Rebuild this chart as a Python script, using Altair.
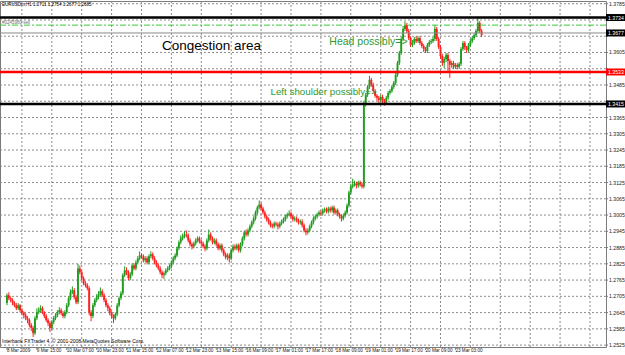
import altair as alt
import pandas as pd

# ---- data (EURUSD H1, prices in 1/10000) ----
first_open = 12680
closes = [
12709,12698,12691,12680,12672,12661,12672,12654,12643,12635,
12624,12617,12599,12588,12569,12624,12646,12654,12661,12646,
12632,12617,12606,12588,12610,12624,12635,12646,12654,12643,
12632,12646,12672,12698,12720,12727,12702,12683,12808,12794,
12772,12753,12746,12735,12646,12632,12672,12691,12702,12713,
12724,12709,12691,12672,12661,12643,12632,12624,12639,12672,
12698,12716,12783,12801,12794,12772,12786,12819,12808,12830,
12845,12856,12853,12838,12845,12830,12853,12860,12845,12830,
12819,12808,12794,12783,12790,12801,12808,12816,12830,12845,
12856,12882,12904,12919,12926,12933,12930,12911,12897,12889,
12900,12911,12919,12907,12900,12889,12882,12911,12933,12919,
12904,12911,12897,12882,12893,12875,12860,12849,12856,12845,
12875,12889,12882,12893,12875,12897,12919,12941,12933,12948,
12963,12978,12992,13014,13033,13044,13029,13014,13000,12989,
12978,12967,12963,12974,12970,12963,12974,12981,12989,13000,
13007,13011,13000,12989,12992,12985,12978,12981,12967,12948,
12941,12948,12963,12978,12992,13000,13007,13014,13011,13022,
13026,13018,13029,13022,13033,13014,13022,13007,13000,12992,
13003,13014,13040,13088,13110,13117,13121,13114,13125,13117,
13110,13416,13449,13478,13504,13485,13463,13445,13438,13430,
13441,13427,13419,13438,13456,13463,13478,13493,13522,13566,
13603,13655,13692,13706,13684,13658,13633,13640,13655,13647,
13658,13640,13629,13618,13611,13633,13643,13647,13655,13692,
13655,13625,13592,13566,13581,13596,13574,13559,13566,13552,
13559,13552,13563,13618,13640,13625,13614,13633,13647,13658,
13669,13684,13714,13684,13669]
highs = [
12716,12720,12705,12698,12687,12680,12680,12676,12661,12650,
12643,12632,12624,12606,12595,12632,12661,12665,12672,12668,
12650,12639,12624,12613,12617,12632,12643,12654,12665,12661,
12650,12654,12680,12705,12731,12742,12735,12709,12825,12819,
12801,12779,12761,12753,12742,12654,12680,12698,12713,12724,
12738,12731,12716,12698,12680,12668,12650,12639,12646,12680,
12705,12724,12790,12816,12812,12801,12794,12827,12827,12838,
12853,12871,12864,12860,12853,12853,12860,12871,12867,12853,
12838,12827,12816,12801,12797,12808,12816,12823,12838,12853,
12864,12889,12911,12930,12937,12945,12948,12937,12919,12904,
12907,12919,12926,12926,12915,12907,12897,12919,12952,12941,
12926,12919,12919,12904,12900,12900,12882,12867,12864,12864,
12882,12897,12897,12900,12900,12904,12926,12948,12952,12956,
12970,12985,13000,13022,13040,13059,13051,13036,13022,13007,
12996,12985,12974,12981,12981,12978,12981,12989,12996,13007,
13014,13022,13018,13007,13000,13000,12992,12989,12989,12974,
12956,12956,12970,12985,13000,13007,13014,13022,13022,13029,
13033,13033,13036,13036,13040,13040,13029,13029,13014,13007,
13011,13022,13048,13095,13121,13139,13132,13128,13132,13132,
13125,13427,13456,13485,13519,13511,13493,13470,13452,13445,
13449,13449,13434,13445,13463,13470,13485,13500,13530,13574,
13611,13662,13703,13721,13714,13692,13665,13651,13662,13665,
13665,13665,13647,13636,13625,13640,13651,13655,13662,13706,
13699,13662,13633,13600,13589,13603,13603,13581,13574,13574,
13566,13566,13570,13625,13647,13647,13629,13640,13655,13665,
13676,13692,13732,13721,13692]
lows = [
12672,12691,12683,12672,12665,12654,12654,12646,12635,12624,
12617,12606,12591,12577,12555,12562,12617,12639,12646,12639,
12624,12610,12595,12573,12580,12602,12617,12628,12639,12635,
12624,12624,12639,12665,12691,12713,12694,12676,12676,12786,
12764,12746,12738,12727,12635,12613,12624,12665,12683,12694,
12705,12702,12683,12665,12650,12635,12624,12606,12617,12632,
12665,12691,12709,12776,12783,12764,12764,12779,12801,12801,
12823,12838,12845,12830,12830,12823,12823,12845,12838,12823,
12812,12801,12786,12772,12768,12783,12794,12801,12808,12823,
12838,12849,12875,12897,12911,12919,12922,12904,12889,12878,
12882,12893,12904,12900,12893,12882,12871,12875,12904,12911,
12897,12897,12889,12875,12875,12867,12853,12842,12838,12830,
12838,12867,12875,12875,12867,12867,12889,12911,12926,12926,
12941,12956,12970,12985,13007,13026,13022,13007,12992,12981,
12970,12959,12956,12956,12963,12952,12956,12967,12974,12981,
12992,13000,12992,12981,12981,12978,12970,12970,12959,12941,
12930,12933,12941,12956,12970,12985,12992,13000,13003,13003,
13014,13011,13011,13014,13014,13007,13007,13000,12992,12981,
12985,12996,13007,13033,13081,13103,13110,13103,13106,13110,
13103,13103,13405,13441,13470,13478,13456,13438,13427,13416,
13423,13416,13408,13412,13430,13449,13456,13470,13485,13515,
13559,13596,13647,13684,13676,13651,13625,13625,13633,13640,
13640,13633,13622,13607,13603,13603,13625,13636,13640,13647,
13647,13618,13581,13555,13548,13570,13537,13511,13548,13544,
13544,13544,13544,13555,13611,13614,13603,13607,13625,13640,
13651,13662,13676,13676,13662]

price_ticks = [1.2525, 1.2585, 1.2645, 1.2705, 1.2765, 1.2825, 1.2885, 1.2945,
               1.3005, 1.3065, 1.3125, 1.3185, 1.3245, 1.3305, 1.3365, 1.3425,
               1.3485, 1.3545, 1.3605, 1.3665, 1.3725, 1.3785]
time_labels = ["8 Mar 2009", "9 Mar 15:00", "10 Mar 07:00", "10 Mar 23:00",
               "11 Mar 15:00", "12 Mar 07:00", "12 Mar 23:00", "13 Mar 15:00",
               "16 Mar 09:00", "17 Mar 01:00", "17 Mar 17:00", "18 Mar 09:00",
               "19 Mar 01:00", "19 Mar 17:00", "20 Mar 09:00", "23 Mar 03:00"]
time_label_bars = [0, 16, 32, 48, 64, 80, 96, 112, 128, 144, 160, 176, 192, 208, 224, 240]
vgrid_bars = [8, 24, 40, 56, 72, 88, 104, 120, 136, 152, 168, 184, 200, 216, 232, 248, 264, 280, 296, 312]

black_levels = [1.3734, 1.3415]
black_labels = ["1.3734", "1.3415"]
gray_levels = [1.3677]
gray_labels = ["1.3677"]
red_levels = [1.3533]
red_labels = ["1.3533"]
green_levels = [1.3706]

notes = [
    {"text": "Congestion area", "bar": 83, "price": 1.3629, "color": "#000000", "size": 13.5},
    {"text": "Head possibly=>", "bar": 172.5, "price": 1.3644, "color": "#2f9a2f", "size": 10.5},
    {"text": "Left shoulder possibly=>", "bar": 141, "price": 1.3459, "color": "#2f9a2f", "size": 9.8},
]

# ---- tables ----
opens = [first_open] + closes[:-1]
df = pd.DataFrame({
    "i": list(range(len(closes))),
    "open": [v / 10000 for v in opens],
    "close": [v / 10000 for v in closes],
    "high": [v / 10000 for v in highs],
    "low": [v / 10000 for v in lows],
})
df["dir"] = ["up" if c >= o else "down" for o, c in zip(df["open"], df["close"])]

tl = pd.DataFrame({"bar": time_label_bars, "label": time_labels})
vg = pd.DataFrame({"bar": vgrid_bars})
covered = set(black_levels + gray_levels + red_levels)
pt = pd.DataFrame({"p": price_ticks})
# axis labels that MetaTrader hides behind the level price boxes
pt["show"] = [all(abs(p - c) > 0.0014 for c in covered) for p in price_ticks]
pt_lab = pt[pt["show"]]

FONT = "Liberation Sans"
xs = alt.Scale(domain=[-1.05, 317.9], nice=False, zero=False)
ys = alt.Scale(domain=[1.2518, 1.3795], nice=False, zero=False)
col = alt.Color("dir:N", scale=alt.Scale(domain=["up", "down"], range=["#1f9d1f", "#ff1f1f"]), legend=None)


def Y(field):
    return alt.Y(field, scale=ys, axis=None)


def X(field):
    return alt.X(field, scale=xs, axis=None)


# horizontal grid + right price labels + ticks (drawn as marks)
hgrid = alt.Chart(pt).mark_rule(color="#8c8c8c", strokeDash=[2, 2], strokeWidth=1).encode(
    y=Y("p:Q"), x=alt.value(0), x2=alt.value(606))
ptick = alt.Chart(pt).mark_rule(color="#808080", strokeWidth=1).encode(
    y=Y("p:Q"), x=alt.value(606), x2=alt.value(608))
plabel = alt.Chart(pt_lab).mark_text(align="left", baseline="middle", fontSize=5.2, font=FONT,
                                     color="#222222").encode(
    y=Y("p:Q"), x=alt.value(609), text=alt.Text("p:Q", format=".4f"))

vgrid = alt.Chart(vg).mark_rule(color="#8c8c8c", strokeDash=[2, 2], strokeWidth=1).encode(
    x=X("bar:Q"))

wicks = alt.Chart(df).mark_rule(strokeWidth=1).encode(
    x=X("i:Q"), y=Y("low:Q"), y2="high:Q", color=col)

bodies = alt.Chart(df).mark_bar(size=1.9).encode(
    x=X("i:Q"), y=Y("open:Q"), y2="close:Q", color=col)


def level_layer(vals, color, width, dash=None):
    d = pd.DataFrame({"p": vals})
    kw = dict(color=color, strokeWidth=width)
    if dash:
        kw["strokeDash"] = dash
    return alt.Chart(d).mark_rule(**kw).encode(
        y=Y("p:Q"), x=alt.value(0), x2=alt.value(606))


lines = [
    level_layer(gray_levels, "#8a8a8a", 1),
    level_layer(green_levels, "#39c839", 1, [6, 2, 2, 2]),
    level_layer(red_levels, "#ff0000", 2.5),
    level_layer(black_levels, "#000000", 2.5),
]


def box_layer(vals, labels, fill):
    d = pd.DataFrame({"p": vals, "t": labels})
    r = alt.Chart(d).mark_rule(color=fill, strokeWidth=7, strokeCap="butt").encode(
        y=Y("p:Q"), x=alt.value(606), x2=alt.value(625))
    t = alt.Chart(d).mark_text(align="left", baseline="middle", color="#ffffff",
                               fontSize=5.2, font=FONT).encode(
        y=Y("p:Q"), x=alt.value(608), text="t:N")
    return [r, t]


boxes = box_layer(gray_levels, gray_labels, "#000000") + box_layer(red_levels, red_labels, "#ff0000") + \
    box_layer(black_levels, black_labels, "#000000")

note_layers = []
for n in notes:
    d = pd.DataFrame([n])
    note_layers.append(alt.Chart(d).mark_text(align="left", baseline="middle", font=FONT,
                                              fontSize=n["size"], color=n["color"]).encode(
        x=X("bar:Q"), y=Y("price:Q"), text="text:N"))

tlabels = alt.Chart(tl).mark_text(align="left", baseline="middle", fontSize=4.6, font=FONT,
                                  color="#222222").encode(
    x=X("bar:Q"), y=alt.value(350), text="label:N")
tticks = alt.Chart(tl).mark_rule(color="#808080").encode(
    x=X("bar:Q"), y=alt.value(346), y2=alt.value(349))

hdr_rows = [
    ("EURUSDm,H1  1.2711 1.2754 1.2677 1.2685", 4, "#000000", 4.5),
    ("#0245980 sell", 22, "#707070", 4.5),
    ("Interbank FXTrader 4, \u00a9 2001-2008 MetaQuotes Software Corp.", 340, "#000000", 5.0),
]
hdr_layers = []
for t, yy, c, fs in hdr_rows:
    d = pd.DataFrame({"t": [t]})
    hdr_layers.append(alt.Chart(d).mark_text(align="left", baseline="middle", fontSize=fs,
                                             font=FONT, color=c).encode(
        x=alt.value(2), y=alt.value(yy), text="t:N"))

chart = alt.layer(hgrid, vgrid, ptick, plabel, wicks, bodies, *lines, *boxes, *note_layers,
                  tlabels, tticks, *hdr_layers).properties(
    width=606, height=346,
    padding={"left": 0, "top": 1, "right": 19, "bottom": 8},
    autosize=alt.AutoSizeParams(type="none"),
    background="#ffffff",
).configure_view(stroke="#7a7a7a", strokeWidth=1)

chart.save("out.html", embed_options={"renderer": "svg", "actions": False})
